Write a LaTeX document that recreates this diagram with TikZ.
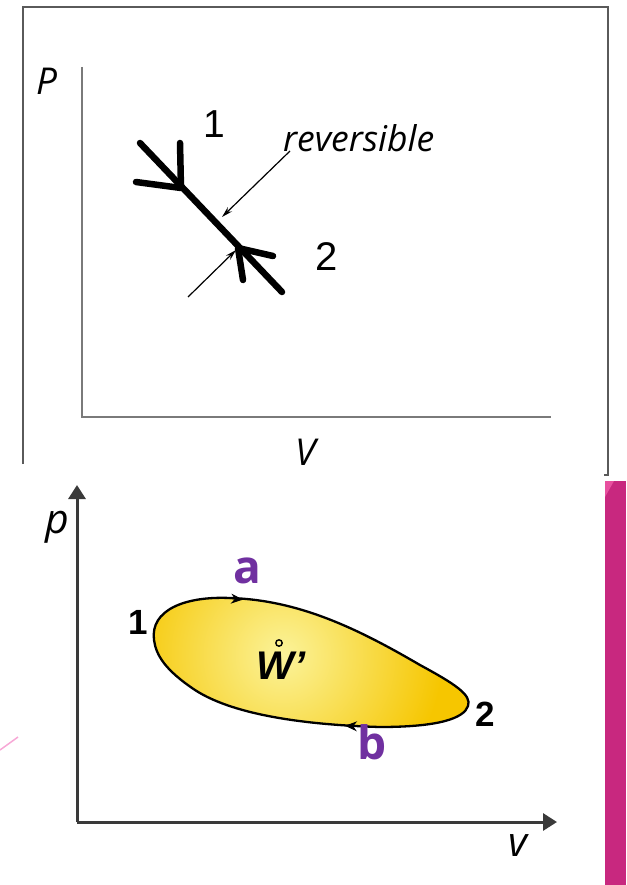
\documentclass[tikz,border=0pt]{standalone}
\usepackage{fontspec}
\usetikzlibrary{arrows.meta}
\newfontfamily\osfont{Open Sans}
\newfontfamily\libfont{Liberation Sans}
\definecolor{framegray}{HTML}{5A5A5A}
\definecolor{axisgray}{HTML}{7A7A7A}
\definecolor{axisdark}{HTML}{3A3A3A}
\definecolor{loopgold}{HTML}{F6C600}
\definecolor{looplight}{HTML}{FBF39A}
\definecolor{purplelbl}{HTML}{7030A0}
\definecolor{barmag}{HTML}{C8287F}
\definecolor{barlight}{HTML}{E8509F}
\definecolor{pinkline}{HTML}{F7A8D6}
\tikzset{
  lbl/.style={inner sep=0pt, anchor=center},
  thickline/.style={line width=6.5pt, line cap=round, line join=round},
  thinarrow/.style={line width=1.2pt, -{Stealth[length=11pt,width=6pt]}},
  axisarrow/.style={axisdark, line width=3pt, -{Triangle[length=14pt,width=17pt]}},
}
\begin{document}
\begin{tikzpicture}[x=1pt,y=-1pt]
\useasboundingbox (0,0) rectangle (626,885);
% ---------- top panel ----------
\draw[framegray, line width=1.5pt] (23,464) -- (23,7) -- (608,7) -- (608,475) -- (604,475);
\draw[axisgray, line width=2.5pt] (82,67) -- (82,417) -- (551,417);
\node[lbl, font=\osfont\itshape\fontsize{37}{42}\selectfont] (P) at (47,81) {P};
\begin{scope}
  \clip (0,0) rectangle (626,464);
  \node[lbl, font=\osfont\itshape\fontsize{37}{42}\selectfont] (V) at (306,452) {V};
\end{scope}
\coordinate (s1) at (140,143);
\coordinate (e1) at (282,292);
\coordinate (h1) at (181,188);
\coordinate (h2) at (238,248);
\draw[thickline] (s1) -- (e1);
\draw[thickline] (180,143) -- (h1) -- (136,182);
\draw[thickline] (243,280) -- (h2) -- (273,256);
\node[lbl, font=\libfont\fontsize{39}{44}\selectfont] (n1) at (214,124) {1};
\node[lbl, font=\libfont\fontsize{40}{44}\selectfont] (n2) at (327,257) {2};
\node[inner sep=0pt, anchor=base west, font=\osfont\itshape\fontsize{35.5}{40}\selectfont] (rev) at (283,152) {reversible};
\coordinate (ta1) at (290,151);
\coordinate (ta1e) at (222,217);
\coordinate (ta2) at (188,297);
\coordinate (ta2e) at (236,250);
\draw[thinarrow] (ta1) -- (ta1e);
\draw[thinarrow] (ta2) -- (ta2e);
% ---------- bottom panel ----------
\fill[barmag] (605,481) rectangle (626,885);
\fill[barlight] (605,481) -- (614,481) -- (605,497) -- cycle;
\draw[pinkline, line width=1.5pt] (0,750) -- (18,737);
\coordinate (orig) at (77,822);
\coordinate (ytip) at (77,485);
\coordinate (xtip) at (557,822);
\draw[axisarrow] (orig) -- (ytip);
\draw[axisarrow] (orig) -- (xtip);
\node[lbl, font=\osfont\itshape\fontsize{41}{46}\selectfont] (p) at (57,527) {p};
\node[lbl, font=\osfont\itshape\fontsize{41}{46}\selectfont] (v) at (518,846) {v};
\def\loop{(154,640) .. controls (150,610) and (185,596) .. (230,598)
  .. controls (300,600) and (360,630) .. (420,665)
  .. controls (455,684) and (472,695) .. (468,706)
  .. controls (464,718) and (440,727) .. (380,727)
  .. controls (310,725) and (235,716) .. (195,690)
  .. controls (165,670) and (156,655) .. (154,640) -- cycle}
\fill[loopgold] \loop;
\begin{scope}
  \clip \loop;
  \shade[inner color=looplight, outer color=loopgold] (283,655) circle[radius=160];
\end{scope}
\draw[black, line width=2.3pt] \loop;
\draw[black, line width=1pt, -{Stealth[length=12pt,width=10pt]}] (226,598.2) -- (243,599.6);
\draw[black, line width=1pt, -{Stealth[length=12pt,width=10pt]}] (362,726.5) -- (345,725.8);
\node[lbl, font=\libfont\bfseries\fontsize{35}{40}\selectfont] (b1) at (138,622) {1};
\node[lbl, font=\libfont\bfseries\fontsize{35}{40}\selectfont] (b2) at (485,714) {2};
\node[lbl, text=purplelbl, font=\osfont\bfseries\fontsize{46}{50}\selectfont] (a) at (247,571) {a};
\node[lbl, text=purplelbl, font=\osfont\bfseries\fontsize{46}{50}\selectfont] (b) at (372,742) {b};
\node[lbl, font=\libfont\bfseries\itshape\fontsize{40}{44}\selectfont] (W) at (281,666) {W’};
\draw[line width=1.4pt] (279,643) circle[radius=3.2];
\end{tikzpicture}
\end{document}
